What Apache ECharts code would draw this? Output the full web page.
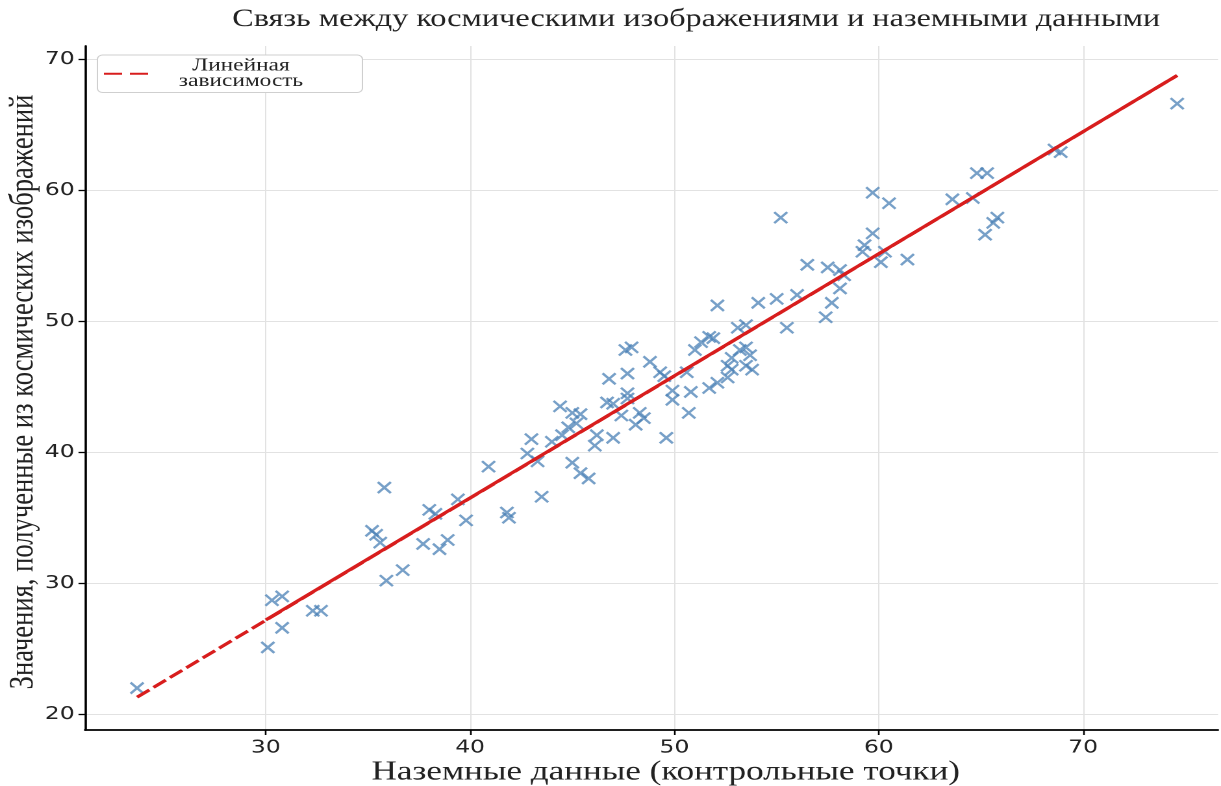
<!DOCTYPE html>
<html>
<head>
<meta charset="utf-8">
<script src="https://cdn.jsdelivr.net/npm/echarts@6/dist/echarts.min.js"></script>
<style>
  html, body { margin: 0; padding: 0; background: #fff; overflow: hidden; }
  /* chart is laid out at its native width and widened to the page */
  #chart { width: 940px; height: 786px; transform: scaleX(1.29894); transform-origin: 0 0; }
</style>
</head>
<body>
<div id="chart"></div>
<script>
// Наземные данные (контрольные точки)
const groundValues = [
  23.7, 30.1, 30.3, 30.8, 30.8, 32.3, 32.7, 35.2, 35.4, 35.6,
  35.8, 35.9, 36.7, 37.7, 38.0, 38.3, 38.5, 38.9, 39.4, 39.8,
  40.9, 41.8, 41.9, 42.8, 43.0, 43.3, 43.5, 44.4, 44.0, 44.5,
  44.8, 45.0, 45.4, 45.0, 45.4, 45.8, 45.2, 46.2, 46.1, 47.0,
  46.7, 47.0, 46.8, 47.7, 47.7, 47.7, 48.1, 48.3, 48.5, 47.4,
  47.6, 47.9, 48.8, 49.3, 49.5, 49.6, 49.9, 49.9, 50.7, 50.8,
  50.6, 51.0, 51.3, 51.7, 51.9, 51.7, 52.1, 52.6, 52.8, 53.1,
  53.5, 53.2, 53.5, 53.7, 53.5, 53.8, 52.8, 52.6, 52.1, 54.1,
  55.0, 56.0, 55.5, 55.2, 56.5, 57.5, 58.1, 58.3, 58.1, 57.7,
  57.4, 59.2, 59.3, 59.7, 59.7, 60.5, 60.1, 60.3, 61.4, 63.6,
  64.6, 64.8, 65.3, 65.8, 65.6, 65.2, 68.6, 68.9, 74.6
];
// Значения, полученные из космических изображений
const imageValues = [
  22.0, 25.1, 28.7, 29.0, 26.6, 27.9, 27.9, 34.0, 33.7, 33.1,
  37.3, 30.2, 31.0, 33.0, 35.6, 35.3, 32.6, 33.3, 36.4, 34.8,
  38.9, 35.4, 35.0, 39.9, 41.0, 39.3, 36.6, 43.5, 40.8, 41.3,
  41.9, 43.0, 42.9, 39.2, 38.4, 38.0, 42.2, 41.3, 40.5, 41.1,
  43.8, 43.7, 45.6, 46.0, 44.1, 44.5, 42.1, 43.0, 42.6, 42.8,
  47.8, 48.0, 46.9, 46.1, 45.8, 41.1, 44.7, 44.0, 43.0, 44.6,
  46.1, 47.8, 48.4, 48.8, 48.7, 44.9, 45.3, 46.6, 47.2, 49.5,
  49.7, 47.8, 48.0, 47.4, 46.6, 46.3, 46.3, 45.7, 51.2, 51.4,
  51.7, 52.0, 49.5, 57.9, 54.3, 54.1, 53.9, 53.5, 52.5, 51.4,
  50.3, 55.3, 55.8, 56.7, 59.8, 59.0, 54.5, 55.3, 54.7, 59.3,
  59.4, 61.3, 61.3, 57.9, 57.5, 56.6, 63.1, 62.9, 66.6
];
// fitted line: full extent, and the solid stretch from x = 30
const fitX = [23.7, 74.6];
const fitY = [21.3, 68.75];
const solidX = [30.0, 74.6];
const solidY = [27.2, 68.75];
const xTicks = [30, 40, 50, 60, 70];
const yTicks = [20, 30, 40, 50, 60, 70];

const TITLE = 'Связь между космическими изображениями и наземными данными';
const X_NAME = 'Наземные данные (контрольные точки)';
const Y_NAME = 'Значения, полученные из космических изображений';
const FIT_NAME = 'Линейная зависимость';

const SERIF = '"Liberation Serif", "DejaVu Serif", serif';
const SANS = '"DejaVu Sans", sans-serif';
const RED = '#d81d1d';

const points = groundValues.map((x, i) => [x, imageValues[i]]);
const fitLine = fitX.map((x, i) => [x, fitY[i]]);
const solidLine = solidX.map((x, i) => [x, solidY[i]]);

const chart = echarts.init(document.getElementById('chart'), null, { devicePixelRatio: 2 });

const axisCommon = {
  type: 'value',
  nameLocation: 'middle',
  nameMoveOverlap: false,
  nameTextStyle: { fontFamily: SERIF, fontSize: 27, color: '#222' },
  axisLine: { show: true, onZero: false, lineStyle: { color: '#000', width: 1.8 } },
  axisTick: { show: true, length: 5, lineStyle: { color: '#000', width: 1.3 } },
  axisLabel: { fontFamily: SANS, fontSize: 18, color: '#222' },
  splitLine: { show: true, lineStyle: { color: '#e2e2e2', width: 1 } },
  splitNumber: 5
};

chart.setOption({
  animation: false,
  backgroundColor: '#fff',
  grid: { left: 65.4, right: 2.3, top: 46, bottom: 56, containLabel: false, outerBoundsMode: 'none' },
  graphic: [{
    type: 'text',
    x: 536, y: 7,
    style: { text: TITLE, font: '24.8px ' + SERIF, fill: '#222', align: 'center', verticalAlign: 'top' }
  }],
  legend: {
    data: [FIT_NAME],
    left: 75, top: 55,
    padding: [2, 30, 2, 4],
    itemWidth: 37, itemHeight: 12, itemGap: 4,
    backgroundColor: '#fff',
    borderColor: '#cfcfcf', borderWidth: 1, borderRadius: 4,
    itemStyle: { opacity: 0 },
    lineStyle: { type: [14, 6] },
    formatter: () => '{a|Линейная}\n{a|зависимость}',
    textStyle: {
      fontFamily: SERIF, fontSize: 18, color: '#222',
      rich: { a: { fontFamily: SERIF, fontSize: 18, lineHeight: 15.5, width: 127, align: 'center', color: '#222' } }
    }
  },
  xAxis: Object.assign({}, axisCommon, {
    min: 21.15, max: 76.6,
    name: X_NAME, nameGap: 29,
    nameTextStyle: Object.assign({}, axisCommon.nameTextStyle, { padding: [0, 0, 0, 22] }),
    axisTick: Object.assign({}, axisCommon.axisTick, { customValues: xTicks }),
    axisLabel: Object.assign({}, axisCommon.axisLabel, { customValues: xTicks, margin: 9 })
  }),
  yAxis: Object.assign({}, axisCommon, {
    min: 18.8, max: 71.0,
    name: Y_NAME, nameGap: 34,
    nameTextStyle: Object.assign({}, axisCommon.nameTextStyle, { fontSize: 26.6, padding: [0, 8, 0, 0] }),
    axisTick: Object.assign({}, axisCommon.axisTick, { customValues: yTicks }),
    axisLabel: Object.assign({}, axisCommon.axisLabel, { customValues: yTicks, margin: 8 })
  }),
  series: [
    {
      name: 'Точки',
      type: 'scatter',
      data: points,
      symbol: 'path://M0,0L10,10M10,0L0,10',
      symbolSize: [10, 11],
      itemStyle: { color: 'none', borderColor: '#4a80b6', borderWidth: 2.1, opacity: 0.75 },
      z: 2
    },
    {
      name: FIT_NAME,
      type: 'line',
      data: fitLine,
      symbol: 'none',
      itemStyle: { color: RED },
      lineStyle: { color: RED, width: 3, type: [12, 4] },
      z: 3
    },
    {
      name: 'fit-solid',
      type: 'line',
      data: solidLine,
      symbol: 'none',
      itemStyle: { color: RED },
      lineStyle: { color: RED, width: 3 },
      z: 4
    }
  ]
});
</script>
</body>
</html>
